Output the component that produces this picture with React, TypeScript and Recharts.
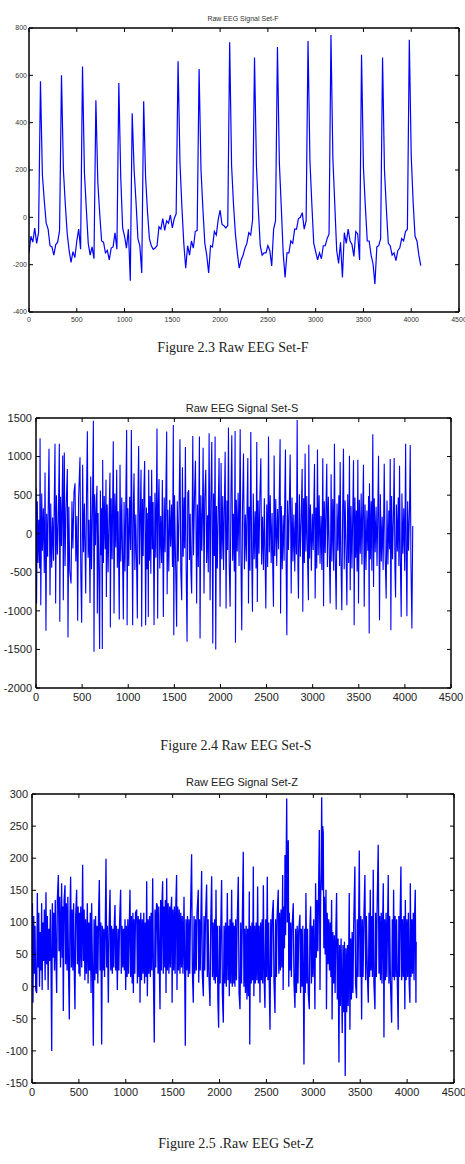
import React from 'react';
import { LineChart, Line, XAxis, YAxis } from 'recharts';

// ---------- tick labels ----------
const X_TICKS = [0, 500, 1000, 1500, 2000, 2500, 3000, 3500, 4000, 4500];
const F_TICKS = [-400, -200, 0, 200, 400, 600, 800];
const S_TICKS = [-2000, -1500, -1000, -500, 0, 500, 1000, 1500];
const Z_TICKS = [-150, -100, -50, 0, 50, 100, 150, 200, 250, 300];

// ---------- titles / captions ----------
const TITLE_F = 'Raw EEG Signal Set-F';
const TITLE_S = 'Raw EEG Signal Set-S';
const TITLE_Z = 'Raw EEG Signal Set-Z';
const CAPTION_F = 'Figure 2.3 Raw EEG Set-F';
const CAPTION_S = 'Figure 2.4 Raw EEG Set-S';
const CAPTION_Z = 'Figure 2.5 .Raw EEG Set-Z';

// ---------- Set-F (one value every 20 samples) ----------
const F_STEP = 20;
const fValues = [
  -150, -80, -105, -45, -110, -65, 575, 180, 70, -25,
  -50, -120, -125, -160, -115, -105, -55, 600, 200, 55,
  -70, -140, -190, -145, -170, -100, -50, -135, 637, 190,
  35, -110, -160, -125, -175, 495, 150, 15, -100, -105,
  -150, -140, -180, -130, -125, -65, -135, 568, 170, -45,
  -80, -130, -50, -268, 440, 200, 65, -90, -120, -235,
  490, 170, 25, -90, -120, -135, -130, -120, -40, -50,
  -5, -55, -15, -25, 10, -45, -5, 15, 660, 230,
  45, -110, -215, -120, -160, -100, -130, -60, -55, 627,
  200, 35, -110, -160, -235, -120, -125, -60, -75, -10,
  30, -30, -35, -45, -35, 740, 220, 55, -70, -150,
  -215, -180, -160, -130, -110, -65, -75, -10, 675, 220,
  35, -120, -160, -150, -150, -120, -140, -205, -50, -14,
  720, 230, 45, -150, -254, -150, -150, -100, -110, -50,
  -50, -5, 0, 20, -50, -15, 745, 240, 55, -110,
  -145, -180, -150, -175, -120, -120, -90, -70, 770, 250,
  55, -140, -195, -105, -254, -65, -110, -50, -100, -115,
  -165, -60, -70, -180, 687, 210, 45, -100, -100, -160,
  -195, -282, -125, -120, -90, 675, 200, 35, -110, -120,
  -160, -150, -183, -140, -130, -90, -100, -60, -50, 750,
  260, 65, -80, -100, -160, -204,
];

// ---------- Set-S (sample, value) ----------
const sPoints: [number, number][] = [
  [0, 600], [6, -905], [14, 420], [22, -380], [30, 180], [40, -450], [44, 1237], [52, -927], [62, 520], [70, -220],
  [80, 330], [90, -510], [98, 794], [108, -1259], [116, 260], [126, -300], [134, 470], [141, 1100], [152, -797], [160, 390],
  [170, -440], [180, 210], [190, -350], [206, 1167], [213, -905], [222, 500], [232, -270], [242, 150], [253, 1167], [258, -1142],
  [266, 480], [276, -160], [290, 1013], [296, -862], [307, 1053], [315, -420], [325, 280], [340, 838], [347, -1345], [356, 350],
  [366, -480], [380, -646], [390, 420], [400, -190], [412, 540], [423, 653], [432, -360], [443, 230], [452, -1129], [462, 460],
  [477, 991], [486, -520], [495, -1155], [506, 895], [515, -240], [525, 390], [539, -776], [548, 520], [557, 1329], [565, -310],
  [575, 180], [586, -897], [593, 741], [602, -460], [612, 300], [622, 1465], [629, -1530], [636, 510], [645, -150], [655, 440],
  [661, 623], [665, -1034], [673, 270], [681, -420], [690, -1496], [698, 560], [706, -280], [712, 330], [719, -1496], [723, 956],
  [731, -380], [740, 490], [750, -200], [759, 700], [763, -819], [772, 380], [782, -500], [792, 220], [802, 790], [806, -1216],
  [815, 460], [825, -330], [838, 1197], [846, -1034], [855, 520], [865, -180], [875, 830], [882, -440], [890, 290], [903, -1112],
  [911, 895], [920, -360], [930, 470], [938, -240], [947, -1112], [955, 410], [965, -490], [975, 540], [983, 1346], [988, -1185],
  [996, 330], [1006, -420], [1016, 480], [1026, -210], [1034, 1346], [1048, -1185], [1056, 380], [1063, 785], [1072, -470], [1082, 250],
  [1090, -330], [1099, -1099], [1106, 520], [1113, 1136], [1122, -400], [1130, 200], [1139, 830], [1146, -1207], [1154, 450], [1162, -290],
  [1170, 560], [1178, 943], [1189, -1185], [1197, 340], [1205, -460], [1212, 270], [1218, -1078], [1222, 830], [1230, -350], [1238, 490],
  [1245, -520], [1254, 830], [1262, -200], [1270, 410], [1280, -1185], [1290, 530], [1300, -310], [1312, 1364], [1319, -1099], [1326, 360],
  [1334, 710], [1342, -450], [1352, 230], [1362, -380], [1370, 697], [1381, -1078], [1390, 470], [1400, -240], [1408, 520], [1417, 1324],
  [1422, -784], [1430, 310], [1440, -490], [1450, 440], [1460, -170], [1470, 380], [1480, -430], [1489, 1408], [1494, -1315], [1502, 500],
  [1512, -260], [1525, -1207], [1532, 420], [1542, -360], [1550, 210], [1561, 1224], [1570, -480], [1580, -862], [1588, 860], [1596, -300],
  [1606, 470], [1612, -190], [1620, 1123], [1628, -420], [1638, -1401], [1646, 530], [1656, 566], [1664, -340], [1672, 260], [1680, -500],
  [1688, -776], [1700, 1267], [1708, -280], [1718, 450], [1729, 947], [1742, -905], [1750, 380], [1760, -430], [1772, 1259], [1779, -1358],
  [1788, 500], [1798, -220], [1806, 340], [1812, 1114], [1822, -776], [1830, 470], [1841, 829], [1850, -380], [1860, 240], [1868, -500],
  [1877, 1303], [1888, -862], [1896, 410], [1906, 1189], [1917, -1422], [1925, 520], [1934, -290], [1942, 1259], [1949, -1500], [1957, 360],
  [1966, -450], [1975, 220], [1985, 982], [1996, -948], [2007, 917], [2015, -330], [2025, 490], [2034, -470], [2042, 280], [2051, 1061],
  [2061, -970], [2070, 430], [2078, -210], [2087, 1377], [2095, -400], [2105, -948], [2114, 510], [2123, 1276], [2132, -350], [2140, 260],
  [2150, -490], [2159, 1333], [2163, -1414], [2172, 440], [2182, -230], [2192, 530], [2202, -420], [2214, 1355], [2222, -300], [2231, -1250],
  [2240, 380], [2250, 1040], [2260, -460], [2270, 250], [2280, -360], [2290, 480], [2297, 982], [2304, -905], [2312, 350], [2320, -480],
  [2329, 1320], [2338, -220], [2347, -1013], [2356, 520], [2366, -330], [2376, 290], [2386, -450], [2394, 1189], [2400, -884], [2408, 430],
  [2418, -260], [2428, 510], [2438, 978], [2446, -400], [2456, 220], [2466, -470], [2476, 460], [2484, -310], [2492, -970], [2502, 380],
  [2512, -430], [2521, 1259], [2530, -240], [2540, 500], [2550, -380], [2560, 270], [2568, -500], [2575, -948], [2582, 1013], [2590, -290],
  [2600, 450], [2610, -420], [2620, 320], [2630, -200], [2638, 490], [2647, 1224], [2652, -1034], [2660, 360], [2670, -460], [2680, 240],
  [2690, -350], [2698, 520], [2705, 1092], [2712, -400], [2720, -1315], [2728, 430], [2738, -210], [2746, 300], [2756, 1026], [2767, -776],
  [2776, 470], [2786, -360], [2796, 250], [2806, -490], [2816, 400], [2824, -270], [2832, 1474], [2840, -440], [2846, -841], [2856, 510],
  [2866, -300], [2876, 220], [2886, 838], [2893, -1013], [2902, 460], [2910, -380], [2918, 1040], [2926, -230], [2936, 490], [2946, -420],
  [2954, -862], [2958, 1153], [2966, -320], [2976, 380], [2986, -480], [2996, 260], [3006, -210], [3014, 470], [3020, 903], [3027, -841],
  [3036, 340], [3044, -450], [3052, 1092], [3060, -280], [3070, 500], [3080, -390], [3090, 230], [3100, -470], [3110, 978], [3118, -940],
  [3126, 420], [3136, -250], [3144, 310], [3153, 908], [3160, -430], [3170, 480], [3180, -200], [3190, -905], [3200, 772], [3208, -360],
  [3218, 450], [3228, -480], [3236, 1167], [3245, -300], [3255, -983], [3264, 390], [3274, -220], [3284, 500], [3292, -420], [3298, 930],
  [3307, -350], [3316, -991], [3325, 270], [3334, 1100], [3342, -460], [3352, 430], [3362, -240], [3371, -927], [3380, 510], [3390, -380],
  [3399, 1009], [3407, -733], [3416, 360], [3426, -450], [3434, 220], [3443, 952], [3450, -1185], [3458, 470], [3466, -310], [3474, 300],
  [3482, -490], [3490, 960], [3497, -905], [3506, 440], [3516, -260], [3526, 520], [3534, -400], [3542, 250], [3551, 895], [3559, -948],
  [3568, 380], [3578, -470], [3588, 300], [3598, -220], [3606, 490], [3613, -1293], [3616, 653], [3625, -330], [3634, 420], [3642, -480],
  [3652, 1290], [3660, -690], [3668, 460], [3678, -240], [3688, 350], [3698, -420], [3706, 260], [3714, 1009], [3725, -1121], [3734, 510],
  [3744, -360], [3754, 220], [3764, -470], [3776, 908], [3786, -280], [3797, -841], [3806, 430], [3816, -400], [3826, 300], [3834, -200],
  [3841, 969], [3848, -1250], [3856, 490], [3866, -330], [3876, 250], [3884, 982], [3892, -450], [3899, -828], [3908, 380], [3918, -230],
  [3928, 470], [3935, -420], [3942, 882], [3950, -300], [3960, -1078], [3968, 520], [3978, -260], [3988, 330], [3998, -480], [4008, 1167],
  [4015, -350], [4022, -1069], [4030, 420], [4040, -220], [4050, 300], [4058, 1150], [4066, -400], [4076, -1228], [4085, 100],
];

// ---------- Set-Z (sample, value) ----------
const zPoints: [number, number][] = [
  [0, 60], [5, 130], [10, -25], [18, 110], [25, 20], [32, 95], [40, -5], [50, -10], [57, 146], [64, 30],
  [72, 115], [80, 0], [88, 85], [96, 25], [103, 130], [108, -5], [116, 100], [124, 40], [132, 120], [140, 10],
  [149, 147], [156, 35], [164, 110], [172, -5], [180, 90], [188, 40], [196, 120], [204, 15], [210, -100], [217, 130],
  [224, 45], [232, 115], [240, 25], [248, 135], [256, 40], [263, -10], [270, 135], [281, 174], [288, 55], [296, 140],
  [304, 30], [316, 161], [322, 45], [328, 125], [334, -38], [342, 135], [352, 158], [358, 35], [366, 130], [374, 25],
  [382, 140], [390, 20], [398, -51], [405, 115], [412, 171], [420, 30], [428, 120], [436, 25], [444, 130], [452, 15],
  [458, -35], [466, 110], [476, 151], [484, 35], [492, 125], [500, 20], [506, 115], [512, 16], [520, 125], [530, 30],
  [540, 190], [548, 40], [556, 120], [564, 10], [572, 105], [580, 20], [590, 130], [598, 5], [606, 100], [614, 25],
  [622, 115], [630, -10], [636, 130], [645, 25], [654, -92], [662, 105], [670, 10], [678, 110], [686, 20], [694, 95],
  [702, 5], [710, 115], [718, 166], [726, 25], [734, 100], [743, -90], [750, 95], [758, 25], [766, 90], [774, 15],
  [782, 100], [789, 199], [796, 30], [804, 95], [814, -25], [822, 90], [832, 151], [840, 25], [848, 95], [856, 20],
  [864, 90], [872, 30], [878, 100], [885, 127], [892, 25], [900, 95], [910, -5], [918, 90], [926, 25], [934, 100],
  [945, 151], [952, 20], [960, 95], [968, 30], [976, 90], [984, 25], [992, 105], [999, -5], [1006, 95], [1014, 15],
  [1022, 105], [1030, 20], [1038, 100], [1045, 151], [1052, 15], [1060, 110], [1068, 5], [1076, 115], [1081, -10], [1088, 105],
  [1096, 20], [1104, 115], [1116, 120], [1124, 5], [1132, 110], [1140, 15], [1146, 105], [1152, -25], [1160, 115], [1168, 10],
  [1176, 105], [1184, 20], [1192, 115], [1200, 5], [1208, 100], [1216, 15], [1223, 164], [1230, -15], [1238, 105], [1246, 20],
  [1254, 110], [1262, 15], [1270, 115], [1278, 25], [1287, 169], [1295, 15], [1304, -87], [1312, 120], [1320, 30], [1328, 130],
  [1336, 127], [1344, 20], [1352, 125], [1358, 30], [1365, -35], [1372, 135], [1380, 25], [1386, 130], [1393, 164], [1400, 20],
  [1408, 125], [1416, 30], [1422, 135], [1429, -10], [1436, 169], [1444, 25], [1452, 130], [1460, 20], [1468, 125], [1476, 30],
  [1482, 120], [1489, 140], [1494, -25], [1502, 120], [1510, 25], [1518, 125], [1526, 20], [1534, 130], [1542, 174], [1546, -5],
  [1554, 125], [1562, 25], [1570, 120], [1578, 20], [1586, 115], [1594, 30], [1602, 110], [1610, 20], [1621, 140], [1628, 25],
  [1635, -92], [1642, 105], [1650, 25], [1658, 110], [1666, 15], [1674, 105], [1682, 20], [1690, 115], [1702, 206], [1710, 25],
  [1720, -25], [1728, 110], [1736, 20], [1744, 105], [1752, 25], [1760, 115], [1773, 151], [1778, 6], [1786, 105], [1794, 25],
  [1802, 115], [1809, 180], [1816, 20], [1827, -15], [1834, 110], [1842, 25], [1850, 105], [1862, 159], [1870, 15], [1878, 105],
  [1886, 20], [1898, -30], [1906, 100], [1916, 172], [1924, 15], [1932, 100], [1940, 10], [1948, 105], [1955, 5], [1962, 151],
  [1970, 15], [1976, 95], [1982, -20], [1990, -64], [1998, 95], [2006, 5], [2014, 100], [2022, 166], [2030, -10], [2040, -56],
  [2048, 95], [2056, 5], [2064, 100], [2072, 0], [2083, 146], [2090, 10], [2098, 95], [2104, -15], [2111, 105], [2120, 5],
  [2129, 151], [2136, 0], [2144, 100], [2152, 5], [2158, 95], [2164, 0], [2172, 105], [2180, 10], [2188, 100], [2200, 171],
  [2208, -10], [2218, -35], [2226, 100], [2234, 5], [2242, 95], [2253, 210], [2260, 0], [2268, 90], [2276, -10], [2284, 95],
  [2292, -20], [2300, 90], [2308, -15], [2317, 148], [2322, -90], [2330, 95], [2338, 5], [2346, 100], [2352, 10], [2360, 187],
  [2366, -15], [2374, 95], [2382, 5], [2390, 100], [2398, 10], [2406, 156], [2414, 5], [2422, 95], [2431, -25], [2438, 100],
  [2446, 10], [2454, 105], [2460, 5], [2467, 158], [2476, 10], [2484, -33], [2492, 105], [2500, 15], [2509, 171], [2516, 10],
  [2524, 100], [2530, 5], [2538, -67], [2546, 105], [2554, 15], [2562, 110], [2573, 135], [2580, 10], [2591, -41], [2598, 105],
  [2606, 15], [2614, 110], [2626, 151], [2632, 20], [2640, 115], [2648, 25], [2656, 120], [2664, 30], [2673, 174], [2678, -5],
  [2686, 125], [2692, 60], [2698, 205], [2704, 80], [2710, 190], [2716, 293], [2722, 100], [2728, 180], [2733, 228], [2738, 0],
  [2744, 115], [2750, 25], [2758, 100], [2766, 15], [2774, 95], [2786, 130], [2794, 5], [2804, -33], [2812, 90], [2820, -10],
  [2828, 95], [2836, 5], [2844, 85], [2857, 112], [2864, -10], [2872, 90], [2880, 0], [2888, 95], [2894, 5], [2900, -121],
  [2908, 90], [2914, -10], [2921, 146], [2930, 5], [2938, 90], [2946, -10], [2957, -35], [2964, 95], [2971, 125], [2980, 5],
  [2988, 95], [2996, 15], [3004, 105], [3012, 25], [3017, -35], [3024, 161], [3032, 45], [3040, 135], [3048, 55], [3056, 150],
  [3064, 244], [3071, -5], [3078, 140], [3084, 180], [3089, 295], [3096, 150], [3100, 250], [3106, 239], [3112, 60], [3118, 140],
  [3126, 50], [3135, 151], [3140, -35], [3148, 115], [3156, 35], [3164, 105], [3172, 25], [3180, 100], [3187, 15], [3195, 135],
  [3200, -51], [3208, 85], [3216, 5], [3224, 80], [3232, -10], [3240, 85], [3248, 146], [3256, -20], [3264, 75], [3273, -118],
  [3280, 65], [3288, -30], [3296, 75], [3308, -72], [3316, 65], [3324, -40], [3332, 70], [3340, -139], [3348, 60], [3356, -40],
  [3364, 65], [3372, -30], [3383, 146], [3390, -67], [3398, 75], [3406, -20], [3414, 85], [3422, -10], [3430, 95], [3443, 187],
  [3450, 5], [3461, -18], [3468, 105], [3476, 15], [3484, 115], [3490, 212], [3498, 15], [3506, 110], [3515, -51], [3522, 105],
  [3530, 15], [3540, 115], [3550, 174], [3558, 10], [3566, 110], [3576, 20], [3586, -25], [3594, 115], [3600, 15], [3607, 151],
  [3614, 25], [3622, 110], [3630, 15], [3639, 182], [3646, 5], [3657, -35], [3664, 115], [3672, 15], [3680, 120], [3692, 221],
  [3700, 20], [3708, 110], [3716, 10], [3724, 115], [3732, 5], [3740, 110], [3746, 161], [3753, -79], [3760, 105], [3768, 10],
  [3776, 115], [3784, 15], [3792, 105], [3799, 174], [3806, 5], [3814, 110], [3822, 10], [3835, -56], [3842, 105], [3850, 15],
  [3856, 151], [3864, 10], [3872, 110], [3880, 15], [3888, 105], [3896, 5], [3905, -67], [3912, 110], [3920, 15], [3926, 115],
  [3934, 187], [3942, 10], [3950, 105], [3958, 15], [3966, 110], [3976, -35], [3981, 135], [3990, 10], [3998, 105], [4006, 15],
  [4014, 115], [4022, 5], [4030, -25], [4034, 161], [4042, 15], [4050, 105], [4058, 20], [4066, 115], [4074, 10], [4080, 110],
  [4087, 151], [4094, -25], [4097, 70],
];

const fData = fValues.map((v, i) => ({ x: i * F_STEP, y: v }));
const sData = sPoints.map(([x, y]) => ({ x, y }));
const zData = zPoints.map(([x, y]) => ({ x, y }));

const SANS = "'Liberation Sans', Arial, Helvetica, sans-serif";
const NARROW = "'Liberation Sans Narrow', 'Arial Narrow', 'Liberation Sans', Arial, sans-serif";
const SERIF = "'Liberation Serif', 'Times New Roman', Times, serif";

type PanelProps = {
  top: number;
  height: number;
  marginTop: number;
  marginRight: number;
  yWidth: number;
  xHeight: number;
  data: { x: number; y: number }[];
  yDomain: [number, number];
  yTicks: number[];
  fontSize: number;
  fontFamily: string;
  tickFill: string;
  xLabelGap: number;
  yLabelGap: number;
  tickLen: number;
  frameWidth: number;
  lineWidth: number;
};

function Panel(p: PanelProps) {
  const bottomTick = (props: any) => {
    const { x, y, payload } = props;
    const ay = y - p.xLabelGap;
    return (
      <g>
        <line x1={x} x2={x} y1={ay} y2={ay - p.tickLen} stroke="#000" strokeWidth={1} />
        <text x={x} y={y} dy="0.71em" textAnchor="middle" fontSize={p.fontSize} fontFamily={p.fontFamily} fill={p.tickFill}>
          {payload.value}
        </text>
      </g>
    );
  };
  const leftTick = (props: any) => {
    const { x, y, payload } = props;
    const ax = x + p.yLabelGap;
    return (
      <g>
        <line x1={ax} x2={ax + p.tickLen} y1={y} y2={y} stroke="#000" strokeWidth={1} />
        <text x={x} y={y} dy="0.355em" textAnchor="end" fontSize={p.fontSize} fontFamily={p.fontFamily} fill={p.tickFill}>
          {payload.value}
        </text>
      </g>
    );
  };
  const topTick = (props: any) => {
    const { x, y } = props;
    return <line x1={x} x2={x} y1={y} y2={y + p.tickLen} stroke="#000" strokeWidth={1} />;
  };
  const rightTick = (props: any) => {
    const { x, y } = props;
    return <line x1={x} x2={x - p.tickLen} y1={y} y2={y} stroke="#000" strokeWidth={1} />;
  };
  const axisLine = { stroke: '#000', strokeWidth: p.frameWidth };

  return (
    <div style={{ position: 'absolute', left: 0, top: p.top, width: 465, height: p.height }}>
      <LineChart
        width={465}
        height={p.height}
        data={p.data}
        margin={{ top: p.marginTop - 1, right: p.marginRight - 1, bottom: 0, left: 0 }}
      >
        <XAxis
          xAxisId="b"
          dataKey="x"
          type="number"
          domain={[0, 4500]}
          ticks={X_TICKS}
          interval={0}
          height={p.xHeight}
          tickSize={0}
          tickMargin={p.xLabelGap}
          tickLine={false}
          axisLine={axisLine}
          tick={bottomTick}
          allowDataOverflow
        />
        <XAxis
          xAxisId="t"
          orientation="top"
          dataKey="x"
          type="number"
          domain={[0, 4500]}
          ticks={X_TICKS}
          interval={0}
          height={1}
          tickSize={0}
          tickMargin={0}
          tickLine={false}
          axisLine={axisLine}
          tick={topTick}
          allowDataOverflow
        />
        <YAxis
          yAxisId="l"
          type="number"
          domain={p.yDomain}
          ticks={p.yTicks}
          interval={0}
          width={p.yWidth}
          tickSize={0}
          tickMargin={p.yLabelGap}
          tickLine={false}
          axisLine={axisLine}
          tick={leftTick}
          allowDataOverflow
        />
        <YAxis
          yAxisId="r"
          orientation="right"
          type="number"
          domain={p.yDomain}
          ticks={p.yTicks}
          interval={0}
          width={1}
          tickSize={0}
          tickMargin={0}
          tickLine={false}
          axisLine={axisLine}
          tick={rightTick}
          allowDataOverflow
        />
        <Line
          xAxisId="b"
          yAxisId="l"
          type="linear"
          dataKey="y"
          stroke="#0000ff"
          strokeWidth={p.lineWidth}
          dot={false}
          activeDot={false}
          isAnimationActive={false}
        />
      </LineChart>
    </div>
  );
}

function TextAt(props: { text: string; cx: number; cy: number; size: number; family: string; color: string }) {
  const lh = Math.round(props.size * 1.4);
  return (
    <div
      style={{
        position: 'absolute',
        left: props.cx - 200,
        width: 400,
        top: props.cy - lh / 2,
        height: lh,
        lineHeight: `${lh}px`,
        textAlign: 'center',
        fontSize: props.size,
        fontFamily: props.family,
        color: props.color,
        whiteSpace: 'nowrap',
      }}
    >
      {props.text}
    </div>
  );
}

export default function App() {
  return (
    <div style={{ position: 'absolute', left: 0, top: 0, width: 465, height: 1164, background: '#fff', overflow: 'hidden' }}>
      {/* Set-F */}
      <Panel
        top={0}
        height={340}
        marginTop={28}
        marginRight={6}
        yWidth={29}
        xHeight={28}
        data={fData}
        yDomain={[-400, 800]}
        yTicks={F_TICKS}
        fontSize={7}
        fontFamily={NARROW}
        tickFill="#333"
        xLabelGap={5}
        yLabelGap={2}
        tickLen={4}
        frameWidth={1.5}
        lineWidth={1.2}
      />
      <TextAt text={TITLE_F} cx={243} cy={19} size={7} family={NARROW} color="#333" />
      <TextAt text={CAPTION_F} cx={233} cy={348} size={14} family={SERIF} color="#222" />

      {/* Set-S */}
      <Panel
        top={400}
        height={320}
        marginTop={18}
        marginRight={14}
        yWidth={36}
        xHeight={32}
        data={sData}
        yDomain={[-2000, 1500]}
        yTicks={S_TICKS}
        fontSize={11}
        fontFamily={SANS}
        tickFill="#222"
        xLabelGap={5}
        yLabelGap={4}
        tickLen={4}
        frameWidth={1.5}
        lineWidth={1.1}
      />
      <TextAt text={TITLE_S} cx={242} cy={408} size={11} family={SANS} color="#222" />
      <TextAt text={CAPTION_S} cx={236} cy={746} size={14} family={SERIF} color="#222" />

      {/* Set-Z */}
      <Panel
        top={780}
        height={330}
        marginTop={14}
        marginRight={11}
        yWidth={32}
        xHeight={27}
        data={zData}
        yDomain={[-150, 300]}
        yTicks={Z_TICKS}
        fontSize={11}
        fontFamily={SANS}
        tickFill="#222"
        xLabelGap={5}
        yLabelGap={4}
        tickLen={4}
        frameWidth={1.5}
        lineWidth={1.3}
      />
      <TextAt text={TITLE_Z} cx={242} cy={782} size={11} family={SANS} color="#222" />
      <TextAt text={CAPTION_Z} cx={236} cy={1144} size={14} family={SERIF} color="#222" />
    </div>
  );
}
